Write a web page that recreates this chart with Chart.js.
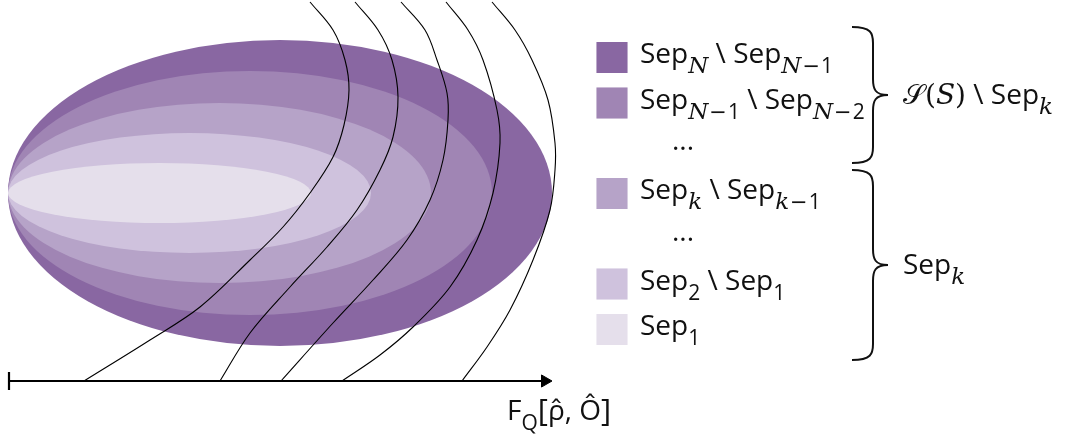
<!DOCTYPE html>
<html>
<head>
<meta charset="utf-8">
<script src="https://cdn.jsdelivr.net/npm/chart.js@4"></script>
<style>
  html, body { margin: 0; padding: 0; background: #fff; }
  #wrap { width: 1065px; height: 436px; }
</style>
</head>
<body>
<div id="wrap"><canvas id="sepChart" width="1065" height="436"></canvas></div>
<script>
// nested regions, outermost first (Sep_N ... Sep_1)
const regionColors = ['#8967a2', '#a085b4', '#b6a3c8', '#cfc2dd', '#e5dfeb'];
const ellipseLeft = 8;
const ellipseMidY = 193;
const ellipseRight = [552, 492, 431, 371, 311];
const ellipseHalfHeight = [153, 122, 90, 60, 30];

// level curves of F_Q (x, y)
const level1 = [[310,2],[333,30],[345,60],[349,90],[344,125],[333,157],[310,193],[283,227],[250,260],[200,307],[150,340],[84,381]];
const level2 = [[355,2],[378,30],[392,60],[398,97],[393,137],[380,170],[357,210],[327,247],[290,287],[250,333],[220,381]];
const level3 = [[401,2],[425,30],[437,60],[447,93],[448,120],[443,160],[430,200],[407,240],[373,280],[333,323],[281,381]];
const level4 = [[446,2],[468,30],[483,60],[497,110],[500,143],[493,193],[477,240],[450,287],[413,327],[380,355],[342,381]];
const level5 = [[492,2],[515,30],[532,60],[548,100],[555,143],[555,170],[550,210],[533,260],[510,310],[487,347],[462,381]];
const levelCurves = [level1, level2, level3, level4, level5];

// axis
const axisY = 381;
const axisStart = 9;
const axisEnd = 545;
const axisLabel = [['F', 'r'], ['Q', 's'], ['[', 'b'], ['ρ̂', 'r'], [', ', 'r'], ['Ô', 'r'], [']', 'b']];
const axisLabelPos = [507, 420];

// legend
const legendX = 612;
const legendTextX = 640;
const legendRowY = [57.5, 103, 193.5, 284, 329.5];
const legendLabels = [
  [['Sep', 'r'], ['N', 'si'], [' \\ Sep', 'r'], ['N', 'si'], ['−', 'sm'], ['1', 's']],
  [['Sep', 'r'], ['N', 'si'], ['−', 'sm'], ['1', 's'], [' \\ Sep', 'r'], ['N', 'si'], ['−', 'sm'], ['2', 's']],
  [['Sep', 'r'], ['k', 'si'], [' \\ Sep', 'r'], ['k', 'si'], ['−', 'sm'], ['1', 's']],
  [['Sep', 'r'], ['2', 's'], [' \\ Sep', 'r'], ['1', 's']],
  [['Sep', 'r'], ['1', 's']]
];
const dotsRowY = [147.5, 238.5];
const dotsX = 683;

// braces: [top, bottom, label]
const braceX = [852, 873, 888];
const braces = [
  { top: 27, bottom: 163, label: [['𝒮', 'm'], ['(', 'mr'], ['S', 'i'], [')', 'mr'], [' \\ Sep', 'r'], ['k', 'si']] },
  { top: 170, bottom: 360, label: [['Sep', 'r'], ['k', 'si']] }
];
const braceLabelX = 903;

const fonts = {
  r:  { font: '28px "Open Sans"', dy: 0 },
  b:  { font: '31px "Open Sans"', dy: 1 },
  s:  { font: '21px "Open Sans"', dy: 10 },
  sm: { font: '21px "DejaVu Sans"', dy: 10, pad: 1 },
  si: { font: 'italic 23px "DejaVu Serif"', dy: 10 },
  i:  { font: 'italic 28px "DejaVu Serif"', dy: 0 },
  m:  { font: '28px "DejaVu Serif", "Noto Sans", serif', dy: 0 },
  mr: { font: '28px "DejaVu Serif"', dy: 0 }
};

function drawRich(ctx, x, y, parts) {
  ctx.textBaseline = 'alphabetic';
  ctx.textAlign = 'left';
  parts.forEach(([t, k]) => {
    const f = fonts[k];
    const pad = f.pad || 0;
    ctx.font = f.font;
    ctx.fillText(t, x + pad, y + f.dy);
    x += ctx.measureText(t).width + 2 * pad;
  });
}

const regionsPlugin = {
  id: 'regions',
  beforeDatasetsDraw(chart) {
    const { ctx, scales: { x, y } } = chart;
    ctx.save();
    ellipseRight.forEach((right, i) => {
      const cx = x.getPixelForValue((ellipseLeft + right) / 2);
      const rx = x.getPixelForValue(right) - cx;
      const cy = y.getPixelForValue(ellipseMidY);
      const ry = Math.abs(y.getPixelForValue(ellipseMidY + ellipseHalfHeight[i]) - cy);
      ctx.beginPath();
      ctx.ellipse(cx, cy, rx, ry, 0, 0, Math.PI * 2);
      ctx.fillStyle = regionColors[i];
      ctx.fill();
    });
    ctx.restore();
  },
  afterDatasetsDraw(chart) {
    const { ctx, scales: { x, y } } = chart;
    ctx.save();
    ctx.fillStyle = '#111';

    legendLabels.forEach((parts, i) => {
      drawRich(ctx, x.getPixelForValue(legendTextX), y.getPixelForValue(legendRowY[i] + 5.5), parts);
    });
    ctx.font = '28px "Open Sans"';
    ctx.textAlign = 'center';
    dotsRowY.forEach(r => ctx.fillText('...', x.getPixelForValue(dotsX), y.getPixelForValue(r + 2)));

    // curly braces
    ctx.strokeStyle = '#111';
    ctx.lineWidth = 2;
    const x0 = x.getPixelForValue(braceX[0]);
    const xm = x.getPixelForValue(braceX[1]);
    const xt = x.getPixelForValue(braceX[2]);
    braces.forEach(b => {
      const top = y.getPixelForValue(b.top);
      const bot = y.getPixelForValue(b.bottom);
      const mid = (top + bot) / 2;
      const r = 16;
      ctx.beginPath();
      ctx.moveTo(x0, top);
      ctx.bezierCurveTo(xm - 2, top, xm, top + 6, xm, top + r);
      ctx.lineTo(xm, mid - r);
      ctx.bezierCurveTo(xm, mid - 6, xm + 2, mid, xt, mid);
      ctx.bezierCurveTo(xm + 2, mid, xm, mid + 6, xm, mid + r);
      ctx.lineTo(xm, bot - r);
      ctx.bezierCurveTo(xm, bot - 6, xm - 2, bot, x0, bot);
      ctx.stroke();
      drawRich(ctx, x.getPixelForValue(braceLabelX), mid + 9, b.label);
    });

    drawRich(ctx, x.getPixelForValue(axisLabelPos[0]), y.getPixelForValue(axisLabelPos[1]), axisLabel);
    ctx.restore();
  }
};

const curveSets = levelCurves.map(c => ({
  type: 'scatter',
  data: c.map(([px, py]) => ({ x: px, y: py })),
  showLine: true,
  borderColor: '#000',
  borderWidth: 1.1,
  pointRadius: 0,
  tension: 0.35,
  fill: false
}));

new Chart(document.getElementById('sepChart'), {
  type: 'scatter',
  data: {
    datasets: [
      ...curveSets,
      {
        // horizontal axis
        data: [{ x: axisStart, y: axisY }, { x: axisEnd, y: axisY }],
        showLine: true,
        borderColor: '#000',
        borderWidth: 2.2,
        pointRadius: 0
      },
      {
        // left tick
        data: [{ x: axisStart, y: axisY }],
        pointStyle: 'line',
        rotation: 90,
        pointRadius: 9,
        borderColor: '#000',
        borderWidth: 2.2
      },
      {
        // arrowhead
        data: [{ x: axisEnd, y: axisY }],
        pointStyle: 'triangle',
        rotation: 90,
        pointRadius: 7,
        backgroundColor: '#000',
        borderColor: '#000',
        borderWidth: 1
      },
      {
        // legend swatches
        data: legendRowY.map(r => ({ x: legendX, y: r })),
        pointStyle: 'rect',
        pointRadius: 22,
        backgroundColor: regionColors,
        borderWidth: 0
      }
    ]
  },
  options: {
    responsive: false,
    animation: false,
    events: [],
    layout: { padding: 0, autoPadding: false },
    scales: {
      x: { type: 'linear', min: 0, max: 1065, display: false },
      y: { type: 'linear', min: 0, max: 436, reverse: true, display: false }
    },
    plugins: {
      legend: { display: false },
      tooltip: { enabled: false }
    }
  },
  plugins: [regionsPlugin]
});
</script>
</body>
</html>
